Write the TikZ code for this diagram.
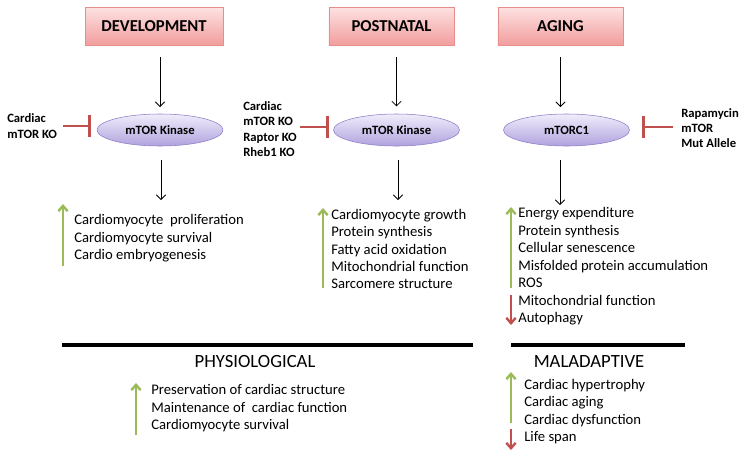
\documentclass[tikz,border=0pt]{standalone}
\usepackage{fontspec}
\setmainfont{Carlito}
\usetikzlibrary{arrows.meta,shapes.geometric}
\definecolor{stagetop}{HTML}{FDE2E2}
\definecolor{stagebot}{HTML}{F29D9D}
\definecolor{stageline}{HTML}{E58E8C}
\definecolor{kintop}{HTML}{F0EDFB}
\definecolor{kinbot}{HTML}{B0A2DE}
\definecolor{kinline}{HTML}{8B7BC6}
\definecolor{inhred}{HTML}{C0504D}
\definecolor{upgreen}{HTML}{9BBB59}

\begin{document}
\begin{tikzpicture}[x=0.75pt, y=-0.75pt,
  stage/.style={draw=stageline, top color=stagetop, bottom color=stagebot, minimum height=28.5pt, font=\fontsize{12.5}{15}\selectfont\bfseries},
  kinase/.style={ellipse, draw=kinline, top color=kintop, bottom color=kinbot, minimum width=94.5pt, minimum height=24pt, inner sep=0pt, font=\fontsize{9.5}{11}\selectfont\bfseries},
  blocker/.style={align=left, inner sep=0pt, anchor=west, font=\fontsize{9.5}{11.5}\selectfont\bfseries},
  effects/.style={align=left, inner sep=0pt, anchor=west, font=\fontsize{11}{13.1}\selectfont},
  outcome/.style={inner sep=0pt, font=\fontsize{14}{16}\selectfont},
  flow/.style={-{Straight Barb[length=3.5pt,width=7pt]}, line width=0.6pt},
  inhib/.style={draw=inhred, line width=2.2pt, -{Bar[width=16.5pt]}},
  upreg/.style={draw=upgreen, line width=1.8pt, -{Straight Barb[length=4pt,width=7pt]}},
  downreg/.style={draw=inhred, line width=1.8pt, -{Straight Barb[length=4pt,width=7pt]}}
]
\useasboundingbox (0,0) rectangle (744,454);

% stages
\node[stage, minimum width=103.5pt] (dev) at (154,26) {DEVELOPMENT};
\node[stage, minimum width=94pt] (post) at (391.5,26) {POSTNATAL};
\node[stage, minimum width=94pt] (aging) at (560.5,26) {AGING};

% kinases
\node[kinase] (devk) at (160,130) {mTOR Kinase};
\node[kinase] (postk) at (396.5,130) {mTOR Kinase};
\node[kinase] (agek) at (566.5,130) {mTORC1};

\draw[flow, shorten <=9pt, shorten >=5pt] (devk.north |- dev.south) -- (devk.north);
\draw[flow, shorten <=9pt, shorten >=5.5pt] (postk.north |- post.south) -- (postk.north);
\draw[flow, shorten <=9pt, shorten >=5pt] (aging.south) -- (aging.south |- agek.north);

% knockouts
\node[blocker] (devko) at (7,126) {Cardiac\\mTOR KO};
\node[blocker] (postko) at (243,129) {Cardiac\\mTOR KO\\Raptor KO\\Rheb1 KO};
\node[blocker] (ageko) at (681,128) {Rapamycin\\mTOR\\Mut Allele};
\coordinate (devbar) at (91,126);
\coordinate (postbar) at (329,127);
\coordinate (agebar) at (642,127);
\draw[inhib, shorten <=4.5pt] (devko.east |- devbar) -- (devbar);
\draw[inhib, shorten <=2pt] (postko.east |- postbar) -- (postbar);
\draw[inhib, shorten <=6pt] (ageko.west |- agebar) -- (agebar);

% effects
\node[effects] (devlist) at (74,238.5) {Cardiomyocyte\ \ proliferation\\Cardiomyocyte survival\\Cardio embryogenesis};
\node[effects] (postlist) at (331,249) {Cardiomyocyte growth\\Protein synthesis\\Fatty acid oxidation\\Mitochondrial function\\Sarcomere structure};
\node[effects] (agelist) at (518,266.5) {Energy expenditure\\Protein synthesis\\Cellular senescence\\Misfolded protein accumulation\\ROS\\Mitochondrial function\\Autophagy};

\coordinate (devin) at (161,200);
\coordinate (postin) at (398,200);
\coordinate (agein) at (560,205);
\draw[flow, shorten <=10.5pt] (devk.south -| devin) -- (devin);
\draw[flow, shorten <=10.5pt] (postk.south -| postin) -- (postin);
\draw[flow, shorten <=10.5pt] (agek.south -| agein) -- (agein);

\coordinate (devlo) at (63,266);
\coordinate (devhi) at (63,204);
\coordinate (postlo) at (323,288);
\coordinate (posthi) at (323,208);
\coordinate (agelo) at (511,288);
\coordinate (agehi) at (511,207);
\coordinate (agedtop) at (511,295);
\coordinate (agedbot) at (511,325);
\draw[upreg] (devlo) -- (devhi);
\draw[upreg] (postlo) -- (posthi);
\draw[upreg] (agelo) -- (agehi);
\draw[downreg] (agedtop) -- (agedbot);

% outcomes
\draw[line width=3pt] (62,345) -- (473,345);
\draw[line width=3pt] (511,345) -- (685,345);
\node[outcome] (phys) at (255,362) {PHYSIOLOGICAL};
\node[outcome] (malad) at (589,362) {MALADAPTIVE};
\node[effects] (physlist) at (151,408.5) {Preservation of cardiac structure\\Maintenance of\ \ cardiac function\\Cardiomyocyte survival};
\node[effects] (maladlist) at (524,411.5) {Cardiac hypertrophy\\Cardiac aging\\Cardiac dysfunction\\Life span};

\coordinate (physlo) at (136,435);
\coordinate (physhi) at (136,383);
\coordinate (maladlo) at (511,423);
\coordinate (maladhi) at (511,372);
\coordinate (maladdtop) at (511,429);
\coordinate (maladdbot) at (511,450);
\draw[upreg] (physlo) -- (physhi);
\draw[upreg] (maladlo) -- (maladhi);
\draw[downreg] (maladdtop) -- (maladdbot);
\end{tikzpicture}
\end{document}
